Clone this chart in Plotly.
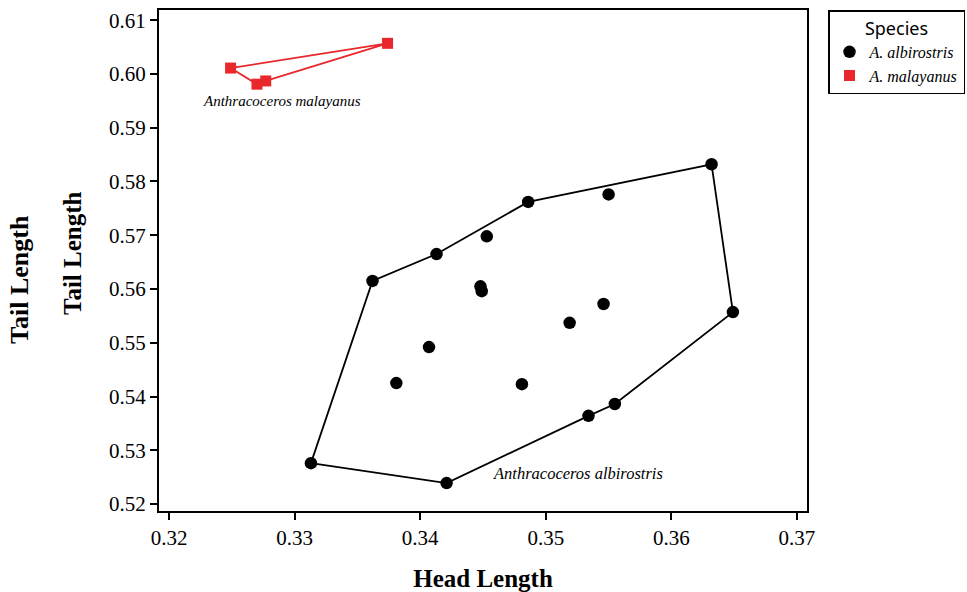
import plotly.graph_objects as go

# --- data ---
alb_head = [0.3313, 0.3421, 0.3362, 0.3413, 0.3453, 0.3486, 0.3550, 0.3632, 0.3649,
            0.3555, 0.3534, 0.3481, 0.3381, 0.3407, 0.3448, 0.3449, 0.3519, 0.3546]
alb_tail = [0.5276, 0.5239, 0.5615, 0.5665, 0.5698, 0.5762, 0.5776, 0.5832, 0.5557,
            0.5386, 0.5364, 0.5423, 0.5425, 0.5492, 0.5605, 0.5596, 0.5537, 0.5572]
alb_hull = [0, 2, 3, 5, 7, 8, 9, 10, 1, 0]

mal_head = [0.3249, 0.3270, 0.3277, 0.3374]
mal_tail = [0.6011, 0.5981, 0.5987, 0.6057]
mal_hull = [0, 1, 2, 3, 0]

x_ticks = [0.32, 0.33, 0.34, 0.35, 0.36, 0.37]
y_ticks = [0.52, 0.53, 0.54, 0.55, 0.56, 0.57, 0.58, 0.59, 0.60, 0.61]
x_ticktext = ["0.32", "0.33", "0.34", "0.35", "0.36", "0.37"]
y_ticktext = ["0.52", "0.53", "0.54", "0.55", "0.56", "0.57", "0.58", "0.59", "0.60", "0.61"]

RED = "#E8282C"
SERIF = "Liberation Serif, Times New Roman, serif"

fig = go.Figure()

# hull outlines
fig.add_trace(go.Scatter(x=[alb_head[i] for i in alb_hull], y=[alb_tail[i] for i in alb_hull],
                         mode="lines", line=dict(color="black", width=1.8),
                         showlegend=False, hoverinfo="skip"))
fig.add_trace(go.Scatter(x=[mal_head[i] for i in mal_hull], y=[mal_tail[i] for i in mal_hull],
                         mode="lines", line=dict(color=RED, width=1.8),
                         showlegend=False, hoverinfo="skip"))

# points
fig.add_trace(go.Scatter(x=alb_head, y=alb_tail, mode="markers", name="<i>A. albirostris</i>",
                         marker=dict(symbol="circle", size=12.5, color="black")))
fig.add_trace(go.Scatter(x=mal_head, y=mal_tail, mode="markers", name="<i>A. malayanus</i>",
                         marker=dict(symbol="square", size=11, color=RED)))

# labels for groups
fig.add_annotation(x=0.3290, y=0.5949, text="<i>Anthracoceros malayanus</i>", showarrow=False,
                   font=dict(family=SERIF, size=15, color="black"))
fig.add_annotation(x=0.3526, y=0.5256, text="<i>Anthracoceros albirostris</i>", showarrow=False,
                   font=dict(family=SERIF, size=16.5, color="black"))

# two y-axis titles (as in reference)
fig.add_annotation(xref="paper", yref="paper", x=(19 - 159) / 648, y=(511 - 280) / 501,
                   xanchor="center", yanchor="middle",
                   text="<b>Tail Length</b>", textangle=-90, showarrow=False,
                   font=dict(family=SERIF, size=26, color="black"))
fig.add_annotation(xref="paper", yref="paper", x=(72 - 159) / 648, y=(511 - 253) / 501,
                   xanchor="center", yanchor="middle",
                   text="<b>Tail Length</b>", textangle=-90, showarrow=False,
                   font=dict(family=SERIF, size=25, color="black"))

axis_common = dict(showline=True, linecolor="black", linewidth=2, mirror=True,
                   ticks="outside", ticklen=7, tickwidth=1.5, tickcolor="black",
                   showgrid=False, zeroline=False,
                   tickfont=dict(family=SERIF, size=21, color="black"))

fig.update_xaxes(range=[0.3192, 0.3708], tickvals=x_ticks, ticktext=x_ticktext,
                 title=dict(text="<b>Head Length</b>", font=dict(family=SERIF, size=25, color="black"),
                            standoff=22),
                 **axis_common)
fig.update_yaxes(range=[0.5187, 0.6119], tickvals=y_ticks, ticktext=y_ticktext, **axis_common)

fig.update_layout(
    width=967, height=592,
    font=dict(family=SERIF, color="black"),
    margin=dict(l=159, r=160, t=10, b=81, autoexpand=False),
    plot_bgcolor="white", paper_bgcolor="white",
    legend=dict(x=(828 - 159) / 648, y=1.0, xanchor="left", yanchor="top",
                bordercolor="black", borderwidth=1.5, bgcolor="white",
                title=dict(text="Species", side="top center",
                           font=dict(family="Noto Sans", size=18, color="black")),
                font=dict(family=SERIF, size=16, color="black"),
                itemwidth=30, tracegroupgap=0),
)

fig.write_html("out.html")
